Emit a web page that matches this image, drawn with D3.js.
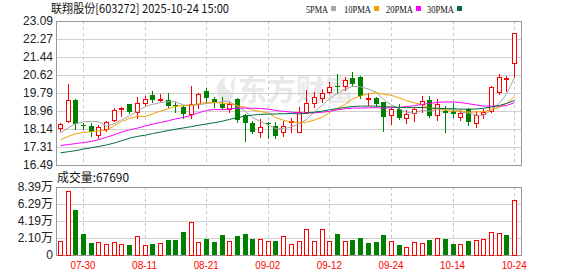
<!DOCTYPE html>
<html>
<head>
<meta charset="utf-8">
<script src="https://cdn.jsdelivr.net/npm/d3@7"></script>
<style>
  body { margin: 0; background: #fff; }
  svg { display: block; font-family: "Liberation Sans", Arial, "Noto Sans CJK SC", sans-serif; }
</style>
</head>
<body>
<svg id="chart" width="578" height="276"></svg>
<script>
// trading days shown
const dates = ['07-25','07-28','07-29','07-30','07-31','08-01','08-04','08-05','08-06','08-07',
  '08-08','08-11','08-12','08-13','08-14','08-15','08-18','08-19','08-20','08-21',
  '08-22','08-25','08-26','08-27','08-28','08-29','09-01','09-02','09-03','09-04',
  '09-05','09-08','09-09','09-10','09-11','09-12','09-15','09-16','09-17','09-18',
  '09-19','09-22','09-23','09-24','09-25','09-26','09-29','09-30','10-09','10-10',
  '10-13','10-14','10-15','10-16','10-17','10-20','10-21','10-22','10-23','10-24'];

const opens = [18.17,18.50,19.48,18.32,18.30,17.85,18.15,18.53,19.06,19.27,
  18.94,19.32,19.70,19.46,19.47,19.25,19.16,18.81,19.28,19.88,
  19.50,19.27,19.07,19.51,18.78,18.40,18.02,18.40,18.27,18.01,
  18.44,18.01,18.93,19.34,19.54,19.82,20.10,20.12,20.46,20.54,
  19.50,19.54,19.36,18.78,19.04,18.63,18.89,19.27,19.47,18.78,
  18.96,18.96,18.70,19.04,18.40,18.81,18.96,19.85,20.44,21.15];
const highs = [18.42,20.22,19.52,18.42,18.41,18.33,18.52,19.09,19.17,19.30,
  19.61,19.67,19.88,19.73,19.80,19.39,19.22,20.11,19.80,20.00,
  19.59,19.59,19.36,19.57,18.82,18.50,18.62,18.46,18.47,18.50,
  18.63,19.16,19.92,19.82,19.96,20.28,20.67,20.51,20.77,20.56,
  19.77,19.59,19.39,19.08,19.27,19.01,19.16,19.65,19.67,19.51,
  19.19,19.32,19.01,19.09,18.96,19.04,20.11,20.65,20.58,22.52];
const lows = [18.05,18.45,18.15,18.15,17.82,17.72,18.07,18.50,18.72,18.88,
  18.64,19.25,19.40,19.42,19.13,18.93,18.66,18.66,19.11,19.34,
  19.16,19.05,18.90,18.47,17.60,17.95,17.79,17.71,17.75,17.83,
  18.02,18.00,18.86,19.16,19.39,19.77,19.79,19.92,20.10,19.55,
  19.24,19.21,18.06,18.35,18.58,18.43,18.52,18.93,18.70,18.55,
  18.02,18.70,18.55,18.32,18.25,18.66,18.90,19.74,19.86,20.52];
const closes = [18.36,19.47,18.37,18.28,17.99,18.22,18.44,19.02,19.12,18.92,
  19.32,19.52,19.47,19.50,19.21,19.19,18.83,19.27,19.73,19.54,
  19.35,19.12,19.30,18.55,18.40,17.98,18.24,18.37,17.82,18.29,
  18.50,18.93,19.34,19.59,19.77,20.08,20.05,20.38,20.20,19.65,
  19.58,19.28,18.70,19.04,18.66,18.85,19.04,19.44,18.75,19.27,
  18.88,18.84,18.86,18.48,18.78,18.90,20.05,20.51,20.47,22.52];
const prevClose = 18.00; // close of the day before the first one

// volume, in 万 (10,000 shares)
const volumes = [1.73,7.90,5.55,2.59,1.48,1.56,1.32,1.56,1.32,1.23,
  2.30,1.19,1.36,1.44,1.85,1.85,2.84,4.03,1.56,1.97,
  1.60,2.47,1.73,2.34,2.59,1.97,1.93,1.73,1.73,2.30,
  1.32,1.69,3.17,1.69,3.17,1.69,2.59,1.69,1.85,2.10,
  1.48,1.60,2.47,1.69,1.23,0.95,1.56,1.44,1.85,2.06,
  1.97,1.36,1.32,1.73,1.81,1.93,2.80,2.67,2.47,6.769];

const ma5 = [17.95,18.20,18.38,18.47,18.49,18.47,18.26,18.39,18.56,18.74,
  18.96,19.18,19.27,19.35,19.40,19.38,19.24,19.20,19.25,19.31,
  19.34,19.40,19.41,19.17,18.94,18.67,18.49,18.31,18.16,18.14,
  18.24,18.38,18.58,18.93,19.23,19.54,19.77,19.97,20.10,20.07,
  19.97,19.82,19.48,19.25,19.05,18.91,18.86,19.01,18.95,19.07,
  19.08,19.04,18.92,18.87,18.77,18.77,19.01,19.34,19.74,20.49];
const ma10 = [17.65,17.80,17.92,17.98,18.02,18.05,18.08,18.30,18.48,18.62,
  18.72,18.72,18.83,18.96,19.07,19.17,19.21,19.24,19.30,19.36,
  19.36,19.32,19.31,19.21,19.13,19.01,18.95,18.86,18.67,18.54,
  18.46,18.44,18.45,18.55,18.69,18.89,19.08,19.28,19.52,19.65,
  19.76,19.80,19.73,19.68,19.56,19.44,19.34,19.25,19.10,19.06,
  19.00,18.95,18.97,18.91,18.92,18.93,19.03,19.13,19.31,19.63];
const ma20 = [17.38,17.43,17.47,17.52,17.57,17.65,17.76,17.88,18.00,18.10,
  18.18,18.28,18.36,18.44,18.52,18.60,18.67,18.77,18.88,18.99,
  19.04,19.02,19.07,19.09,19.10,19.09,19.08,19.05,18.99,18.95,
  18.91,18.88,18.88,18.88,18.91,18.95,19.02,19.07,19.10,19.10,
  19.11,19.12,19.09,19.12,19.13,19.17,19.21,19.27,19.31,19.36,
  19.38,19.38,19.35,19.30,19.24,19.19,19.19,19.19,19.21,19.35];
const ma30 = [17.05,17.10,17.15,17.22,17.28,17.34,17.41,17.50,17.60,17.72,
  17.80,17.86,17.93,18.00,18.07,18.13,18.19,18.25,18.31,18.37,
  18.43,18.50,18.58,18.66,18.73,18.78,18.81,18.82,18.83,18.84,
  18.85,18.83,18.86,18.91,18.96,19.02,19.08,19.13,19.17,19.19,
  19.19,19.19,19.16,19.15,19.13,19.12,19.12,19.13,19.10,19.09,
  19.07,19.07,19.05,19.05,19.06,19.09,19.15,19.22,19.31,19.45];

const priceTicks = [23.09, 22.27, 21.44, 20.62, 19.79, 18.96, 18.14, 17.31, 16.49];
const volTicks = [0, 2.10, 4.19, 6.29, 8.39];
const dateTicks = ['07-30','08-11','08-21','09-02','09-12','09-24','10-14','10-24'];

const RED = '#ff0000', GREEN = '#008000';
const left = 56, right = 522;
const svg = d3.select('#chart');

let x = d3.scaleBand().domain(dates).range([left, 518]);
let cx = d => Math.round(x(d) + x.bandwidth() / 2) + 0.5;
let y = d3.scaleLinear().domain([16.49, 23.09]).range([165, 21]);
let yv = d3.scaleLinear().domain([0, 8.39]).range([255, 187]);
let px = v => Math.round(v) + 0.5;

// title and legend
svg.append('text').attr('x', 51).attr('y', 13)
  .attr('font-family', '"Noto Sans CJK SC", sans-serif').attr('font-size', 12)
  .attr('fill', '#111').attr('textLength', 178).attr('lengthAdjust', 'spacingAndGlyphs')
  .text('联翔股份[603272] 2025-10-24 15:00');

let legend = [
  {name: '5PMA', color: '#a6a6a6', x: 306, w: 22},
  {name: '10PMA', color: '#f5a000', x: 344, w: 27},
  {name: '20PMA', color: '#ff00ff', x: 386, w: 27},
  {name: '30PMA', color: '#006f38', x: 427, w: 27}
];
let lg = svg.selectAll('g.legend').data(legend).enter().append('g').attr('class', 'legend');
lg.append('text').attr('x', d => d.x).attr('y', 13).attr('font-size', 11)
  .attr('font-family', '"Liberation Serif", serif').attr('fill', '#111')
  .attr('textLength', d => d.w).attr('lengthAdjust', 'spacingAndGlyphs')
  .text(d => d.name);
lg.append('rect').attr('x', d => d.x + d.w + 3).attr('y', 6).attr('width', 5).attr('height', 5)
  .attr('fill', d => d.color);

// watermark
let wm = svg.append('g').attr('fill', '#e9e9e9');
wm.append('path').attr('d', 'M222,101 C214,93 215,82 226,76 C222,84 226,90 233,92 C229,86 231,80 236,77 C233,86 236,95 230,101 Z');
wm.append('text').attr('x', 238).attr('y', 101).attr('font-size', 29).attr('font-weight', 'bold')
  .attr('font-family', '"Noto Sans CJK SC", sans-serif').text('东方财富');

// price grid + labels
let yAxis = d3.axisLeft(y).tickValues(priceTicks).tickFormat(d3.format('.2f'))
  .tickSizeInner(-(right - left)).tickSizeOuter(0).tickPadding(3);
let gy = svg.append('g').attr('transform', 'translate(' + left + ',0.5)').call(yAxis);
gy.select('.domain').remove();
gy.selectAll('.tick').attr('transform', d => 'translate(0,' + Math.round(y(d)) + ')');
gy.selectAll('line').attr('stroke', '#d0d0d0');
gy.selectAll('text').attr('font-size', 12).attr('fill', '#222')
  .attr('font-family', '"Liberation Sans", Arial, sans-serif');

// volume grid + labels
let vAxis = d3.axisLeft(yv).tickValues(volTicks)
  .tickFormat(d => d === 0 ? '0' : d3.format('.2f')(d) + '万')
  .tickSizeInner(-(right - left)).tickSizeOuter(0).tickPadding(3);
let gv = svg.append('g').attr('transform', 'translate(' + left + ',0.5)').call(vAxis);
gv.select('.domain').remove();
gv.selectAll('.tick').attr('transform', d => 'translate(0,' + Math.round(yv(d)) + ')');
gv.selectAll('line').attr('stroke', '#d0d0d0');
gv.selectAll('text').attr('font-size', 12).attr('fill', '#222')
  .attr('font-family', '"Liberation Sans", Arial, "Noto Sans CJK SC", sans-serif');

// dashed date lines in both panels
[[21, 165], [187, 255]].forEach(([t, b]) => {
  svg.append('g').selectAll('line').data(dateTicks).enter().append('line')
    .attr('x1', d => cx(d)).attr('x2', d => cx(d))
    .attr('y1', t).attr('y2', b)
    .attr('stroke', '#c8c8c8').attr('stroke-dasharray', '3,3');
});

// date labels
let xAxis = d3.axisBottom(x).tickValues(dateTicks).tickSize(0).tickPadding(3);
let gx = svg.append('g').attr('transform', 'translate(0,258)').call(xAxis);
gx.select('.domain').remove();
gx.selectAll('text').attr('font-size', 11).attr('fill', RED)
  .attr('font-family', '"Liberation Sans", Arial, sans-serif')
  .attr('textLength', 25).attr('lengthAdjust', 'spacingAndGlyphs');

// frames
svg.append('rect').attr('x', left + 0.5).attr('y', 21.5).attr('width', right - left - 1).attr('height', 144)
  .attr('fill', 'none').attr('stroke', '#999');
svg.append('rect').attr('x', left + 0.5).attr('y', 187.5).attr('width', right - left - 1).attr('height', 68)
  .attr('fill', 'none').attr('stroke', '#999');

// candles
let days = dates.map((d, i) => ({
  date: d, o: opens[i], h: highs[i], l: lows[i], c: closes[i], v: volumes[i],
  pc: i === 0 ? prevClose : closes[i - 1]
}));
let candles = svg.append('g').selectAll('g').data(days).enter().append('g');
candles.append('line')
  .attr('x1', d => cx(d.date)).attr('x2', d => cx(d.date))
  .attr('y1', d => Math.round(y(d.h))).attr('y2', d => Math.round(y(d.l)) + 1)
  .attr('stroke', d => d.c > d.o ? RED : GREEN);
candles.append('rect')
  .attr('x', d => d.c > d.o ? cx(d.date) - 2 : cx(d.date) - 2.5)
  .attr('width', d => d.c > d.o ? 4 : 5)
  .attr('y', d => Math.round(y(Math.max(d.o, d.c))) + (d.c > d.o ? 0.5 : 0))
  .attr('height', d => Math.max(1, Math.round(y(Math.min(d.o, d.c))) - Math.round(y(Math.max(d.o, d.c)))))
  .attr('fill', d => d.c > d.o ? '#fff' : GREEN)
  .attr('stroke', d => d.c > d.o ? RED : 'none');

// moving averages
let maSeries = [ma5, ma10, ma20, ma30];
let line = d3.line().x((v, i) => cx(dates[i])).y(v => y(v));
svg.append('g').selectAll('path').data(maSeries).enter().append('path')
  .attr('d', s => line(s))
  .attr('fill', 'none')
  .attr('stroke', (s, i) => legend[i].color)
  .attr('stroke-width', 1);

// volume bars
svg.append('text').attr('x', 57).attr('y', 182).attr('font-size', 12).attr('fill', '#111')
  .attr('font-family', '"Noto Sans CJK SC", sans-serif')
  .attr('textLength', 72).attr('lengthAdjust', 'spacingAndGlyphs')
  .text('成交量:' + Math.round(volumes[volumes.length - 1] * 10000));

svg.append('g').selectAll('rect').data(days).enter().append('rect')
  .attr('x', d => d.c >= d.pc ? cx(d.date) - 2 : cx(d.date) - 2.5)
  .attr('width', d => d.c >= d.pc ? 4 : 5)
  .attr('y', d => Math.round(yv(d.v)) + (d.c >= d.pc ? 0.5 : 0))
  .attr('height', d => 255 - Math.round(yv(d.v)))
  .attr('fill', d => d.c >= d.pc ? '#fff' : GREEN)
  .attr('stroke', d => d.c >= d.pc ? RED : 'none');
</script>
</body>
</html>
